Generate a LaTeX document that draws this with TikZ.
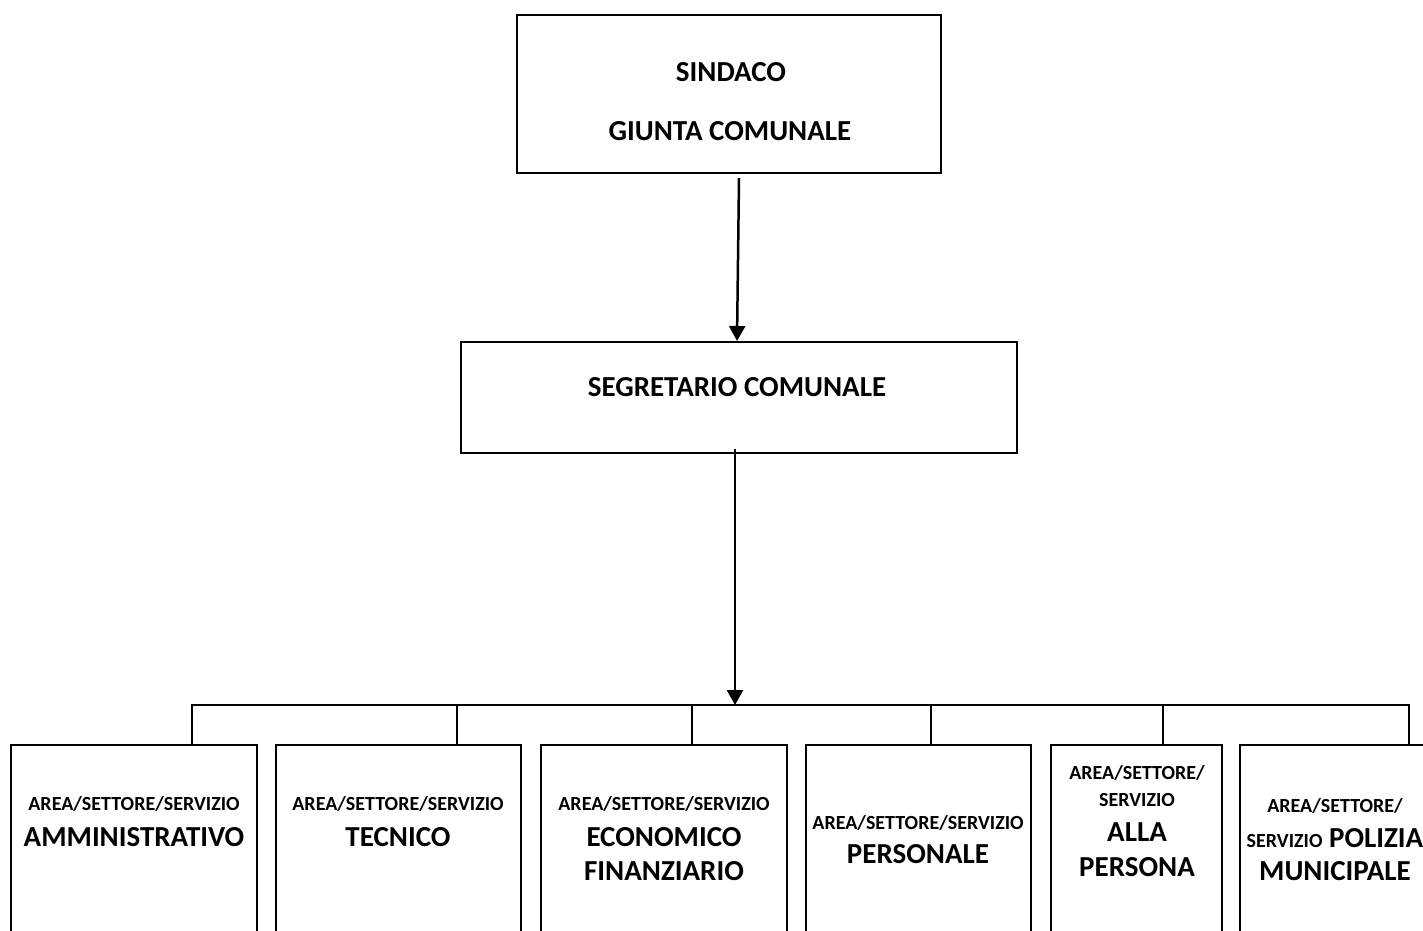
\documentclass[tikz,border=0pt]{standalone}
\usepackage{fontspec}
\setmainfont{Carlito}
\usetikzlibrary{arrows.meta}
\begin{document}
\begin{tikzpicture}[x=1pt,y=-1pt,
  box/.style={draw,line width=2pt,inner sep=0pt},
  lnk/.style={line width=2pt},
  arr/.style={line width=2.5pt,-{Triangle[length=15pt,width=16pt]}},
  sm/.style={font=\fontsize{20}{24}\selectfont\bfseries,anchor=base,inner sep=0pt},
  bg/.style={font=\fontsize{29}{34}\selectfont\bfseries,anchor=base,inner sep=0pt},
  low/.style={box,minimum height=255pt}
]
\useasboundingbox (0,0) rectangle (1423,930);
\clip (0,0) rectangle (1423,930);
% top boxes
\node[box,minimum width=424pt,minimum height=158pt] (sind) at (729,94) {};
\node[bg] (sindt1) at (731,81) {SINDACO};
\node[bg] (sindt2) at (730,140) {GIUNTA COMUNALE};
\node[box,minimum width=556pt,minimum height=111pt] (seg) at (739,397.5) {};
\node[bg] (segt) at (737,396) {SEGRETARIO COMUNALE};
% bottom boxes
\node[low,minimum width=246pt] (b1) at (134,872.5) {};
\node[low,minimum width=245pt] (b2) at (398.5,872.5) {};
\node[low,minimum width=246pt] (b3) at (664,872.5) {};
\node[low,minimum width=225pt] (b4) at (918.5,872.5) {};
\node[low,minimum width=171pt] (b5) at (1136.5,872.5) {};
\node[low,minimum width=200pt] (b6) at (1340,872.5) {};
% texts
\node[sm] (b1a) at (134,810) {AREA/SETTORE/SERVIZIO};
\node[bg] (b1b) at (134,846) {AMMINISTRATIVO};
\node[sm] (b2a) at (398,810) {AREA/SETTORE/SERVIZIO};
\node[bg] (b2b) at (398,846) {TECNICO};
\node[sm] (b3a) at (664,810) {AREA/SETTORE/SERVIZIO};
\node[bg] (b3b) at (664,846) {ECONOMICO};
\node[bg] (b3c) at (664,880) {FINANZIARIO};
\node[sm] (b4a) at (918,829) {AREA/SETTORE/SERVIZIO};
\node[bg] (b4b) at (918,863) {PERSONALE};
\node[sm] (b5a) at (1137,779) {AREA/SETTORE/};
\node[sm] (b5b) at (1137,806) {SERVIZIO};
\node[bg] (b5c) at (1137,841) {ALLA};
\node[bg] (b5d) at (1137,876) {PERSONA};
\node[sm] (b6a) at (1335,812) {AREA/SETTORE/};
\node[bg] (b6b) at (1335,847) {{\fontsize{20}{24}\selectfont SERVIZIO} POLIZIA};
\node[bg] (b6c) at (1335,880) {MUNICIPALE};
% connectors
\draw[arr] ([shift={(10,4)}]sind.south) -- ([shift={(-2,0)}]seg.north);
\coordinate (bus) at (735,705);
\coordinate (d1) at (192,705);
\coordinate (d2) at (457,705);
\coordinate (d3) at (692,705);
\coordinate (d4) at (931,705);
\coordinate (d5) at (1163,705);
\coordinate (d6) at (1409,705);
\draw[arr] ([shift={(-4,-5)}]seg.south) -- (bus);
\draw[lnk] (d1 |- b1.north) -- (d1) -- (d6) -- (d6 |- b6.north);
\draw[lnk] (d2) -- (d2 |- b2.north);
\draw[lnk] (d3) -- (d3 |- b3.north);
\draw[lnk] (d4) -- (d4 |- b4.north);
\draw[lnk] (d5) -- (d5 |- b5.north);
\end{tikzpicture}
\end{document}
